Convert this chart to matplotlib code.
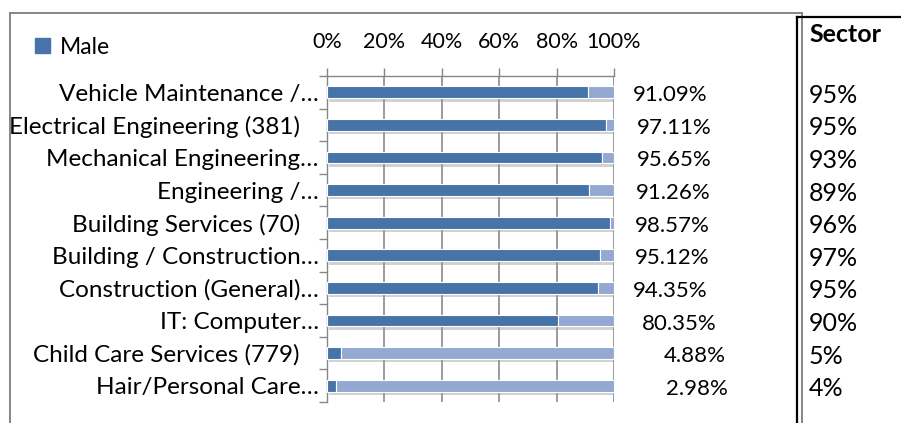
import numpy as np
import matplotlib
matplotlib.use('Agg')
import matplotlib.pyplot as plt
import matplotlib.patheffects as pe
from matplotlib.lines import Line2D

plt.rcParams['font.family'] = ['Lato', 'DejaVu Sans']

# data
categories = [
    'Vehicle Maintenance /…',
    'Electrical Engineering (381)',
    'Mechanical Engineering…',
    'Engineering /…',
    'Building Services (70)',
    'Building / Construction…',
    'Construction (General)…',
    'IT: Computer…',
    'Child Care Services (779)',
    'Hair/Personal Care…',
]
male = np.array([91.09, 97.11, 95.65, 91.26, 98.57, 95.12, 94.35, 80.35, 4.88, 2.98])
female = 100 - male
sector = [95, 95, 93, 89, 96, 97, 95, 90, 5, 4]
x_ticks = [0, 20, 40, 60, 80, 100]

# per-row nudges of the data labels (pixels), as in the original layout
label_dx = [19, 23, 23, 22, 21, 21, 19, 28, 50, 52]

W, H = 901, 423
fig = plt.figure(figsize=(W / 100, H / 100), dpi=100)
fig.patch.set_facecolor('white')

def fx(x):
    return x / W

def fy(y):
    return 1 - y / H

ax = fig.add_axes([fx(327), fy(402), fx(614) - fx(327), fy(76) - fy(402)])

male_col = '#4673a8'
female_col = '#93a9d1'
shadow = [pe.SimplePatchShadow(offset=(1.5, -2.5), shadow_rgbFace='#9a9a9a', alpha=0.45), pe.Normal()]

y = np.arange(len(categories))
bh = 0.36
mb = ax.barh(y, male, height=bh, color=male_col, edgecolor='white', linewidth=0.8, label='Male', zorder=3)
fb = ax.barh(y, female, left=male, height=bh, color=female_col, edgecolor='white', linewidth=0.8, zorder=3)
for b in list(mb) + list(fb):
    b.set_path_effects(shadow)

ax.set_xlim(0, 100)
ax.set_ylim(len(categories) - 0.5, -0.5)

ax.xaxis.tick_top()
ax.set_xticks(x_ticks)
ax.set_xticklabels([f'{t}%' for t in x_ticks])
ax.tick_params(axis='x', direction='out', length=5.5, width=1, color='#868686',
               pad=12, labelsize=15.5)
ax.grid(axis='x', color='#8a8a8a', linewidth=1.2, zorder=0)
ax.set_axisbelow(True)

ax.set_yticks(y)
# untruncated names sit a little further left, as Excel lays them out
ax.set_yticklabels([c if c.endswith('…') else c + '   ' for c in categories])
ax.set_yticks(np.arange(len(categories) + 1) - 0.5, minor=True)
ax.tick_params(axis='y', which='major', length=0, pad=6, labelsize=17.5)
ax.tick_params(axis='y', which='minor', direction='out', length=5.5, width=1, color='#868686')

for s in ['right', 'bottom']:
    ax.spines[s].set_visible(False)
for s in ['left', 'top']:
    ax.spines[s].set_color('#868686')
    ax.spines[s].set_linewidth(1)

# value labels
for i, v in enumerate(male):
    ax.annotate(f'{v:.2f}%', xy=(100, i), xytext=(label_dx[i], -3), textcoords='offset pixels',
                ha='left', va='center', fontsize=16, annotation_clip=False)

# legend (plain square marker, no shadow)
handle = plt.Rectangle((0, 0), 1, 1, color=male_col)
fig.legend(handles=[handle], labels=['Male'], loc='center left', bbox_to_anchor=(fx(35), fy(47)),
           frameon=False, fontsize=16.5, handlelength=0.65, handleheight=0.65, handletextpad=0.45,
           borderaxespad=0, borderpad=0)

# sector column
fig.text(fx(809), fy(34), 'Sector', fontsize=18, fontweight='bold', ha='left', va='center')
for i, s in enumerate(sector):
    ax.annotate(f'{s}%', xy=(fx(809), i), xycoords=('figure fraction', 'data'),
                xytext=(0, -3), textcoords='offset pixels',
                ha='left', va='center', fontsize=18, annotation_clip=False)

# chart frame and table rules
gray = '#868686'
fig.add_artist(Line2D([fx(10), fx(802)], [fy(13), fy(13)], color=gray, lw=1.4))
fig.add_artist(Line2D([fx(10), fx(10)], [fy(13), fy(423)], color=gray, lw=1.4))
fig.add_artist(Line2D([fx(802), fx(802)], [fy(13), fy(423)], color=gray, lw=1.4))
fig.add_artist(Line2D([fx(797), fx(797)], [fy(17), fy(423)], color='black', lw=1.6))
fig.add_artist(Line2D([fx(797), fx(901)], [fy(17), fy(17)], color='black', lw=1.6))

fig.savefig('out.png', dpi=100)
